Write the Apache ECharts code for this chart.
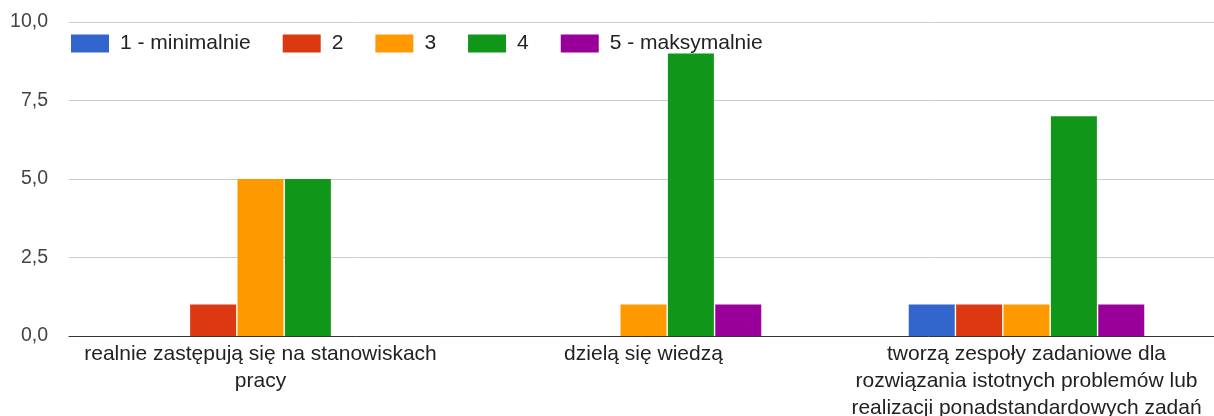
<!DOCTYPE html>
<html>
<head>
<meta charset="utf-8">
<script src="https://cdn.jsdelivr.net/npm/echarts@6/dist/echarts.min.js"></script>
<style>
  html, body { margin: 0; padding: 0; background: #fff; }
  #chart { width: 1214px; height: 416px; }
</style>
</head>
<body>
<div id="chart"></div>
<script>
// Survey answers per statement, scale 1-5
const categories = [
  'realnie zastępują się na stanowiskach\npracy',
  'dzielą się wiedzą',
  'tworzą zespoły zadaniowe dla\nrozwiązania istotnych problemów lub\nrealizacji ponadstandardowych zadań'
];
const seriesNames = ['1 - minimalnie', '2', '3', '4', '5 - maksymalnie'];
const values1 = [0, 0, 1];
const values2 = [1, 0, 1];
const values3 = [5, 1, 1];
const values4 = [5, 9, 7];
const values5 = [0, 1, 1];
const yTicks = [0, 2.5, 5, 7.5, 10];

const colors = ['#3366cc', '#dc3912', '#ff9900', '#109618', '#990099'];
const allValues = [values1, values2, values3, values4, values5];
const font = "'Liberation Sans', Arial, sans-serif";

const chart = echarts.init(document.getElementById('chart'), null, { renderer: 'canvas' });
chart.setOption({
  animation: false,
  color: colors,
  textStyle: { fontFamily: font },
  legend: {
    left: 71,
    top: 33,
    padding: 0,
    icon: 'rect',
    itemWidth: 38,
    itemHeight: 18,
    itemGap: 32,
    textStyle: { fontSize: 21, color: '#222', fontFamily: font, padding: [0, 0, 0, 6] },
    data: seriesNames
  },
  grid: { left: 69, top: 22, bottom: 80, width: 1149, outerBoundsMode: 'none', containLabel: false },
  xAxis: {
    type: 'category',
    data: categories,
    axisTick: { show: false },
    axisLine: { lineStyle: { color: '#333', width: 1 } },
    axisLabel: {
      interval: 0,
      fontSize: 21,
      color: '#222',
      lineHeight: 27,
      margin: 5,
      fontFamily: font
    }
  },
  yAxis: {
    type: 'value',
    min: yTicks[0],
    max: yTicks[yTicks.length - 1],
    interval: 2.5,
    axisLine: { show: false },
    axisTick: { show: false },
    splitLine: { lineStyle: { color: '#ccc', width: 1 } },
    axisLabel: {
      fontSize: 19.5,
      color: '#444',
      margin: 21,
      fontFamily: font,
      formatter: v => v.toFixed(1).replace('.', ',')
    }
  },
  series: seriesNames.map((name, i) => ({
    name: name,
    type: 'bar',
    data: allValues[i],
    barWidth: 46,
    barGap: '3%',
    itemStyle: { color: colors[i] }
  }))
});
</script>
</body>
</html>
